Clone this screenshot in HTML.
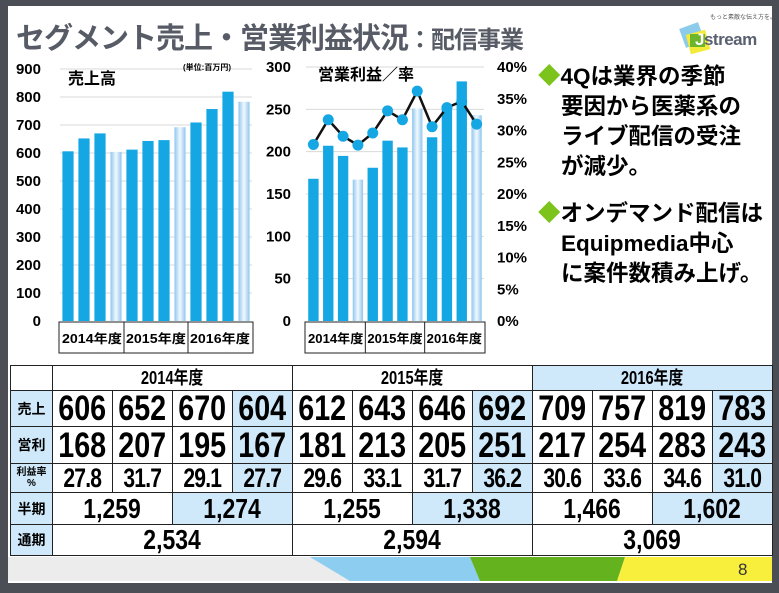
<!DOCTYPE html>
<html><head><meta charset="utf-8">
<style>
body{margin:0;width:779px;height:593px;background:#4b4e54;overflow:hidden;font-family:"Liberation Sans","Noto Sans CJK JP",sans-serif;}
#slide{position:absolute;left:8px;top:6px;width:764px;height:577px;background:#fff;}
.abs{position:absolute;}
table{border-collapse:collapse;position:absolute;left:10px;top:365px;table-layout:fixed;}
td{border:1px solid #222;padding:0;text-align:center;font-weight:bold;color:#000;overflow:hidden;white-space:nowrap;line-height:1;}
td span{display:inline-block;transform:scaleX(0.82);}
.lb{background:#cfe9fa;font-size:14px;}
.b{background:#cfe9fa;}
</style></head><body>
<div id="slide"></div>
<div class="abs" style="left:16px;top:15px;color:#575b66;font-weight:bold;font-size:29px;letter-spacing:-1px;white-space:nowrap;">セグメント売上・営業利益状況<span style="font-size:24px;">：配信事業</span></div>

<div class="abs" style="left:676px;top:12px;width:94px;height:48px;">
  <div class="abs" style="left:34px;top:0;font-size:6px;color:#555;white-space:nowrap;">もっと素敵な伝え方を。</div>
  <div class="abs" style="left:6px;top:13px;width:20px;height:20px;background:#8ccbea;transform:rotate(-20deg);"></div>
  <div class="abs" style="left:12px;top:20px;width:20px;height:20px;background:#f4ea3a;transform:rotate(-15deg);"></div>
  <div class="abs" style="left:14px;top:22px;width:15px;height:13px;background:#6db52a;"></div>
  <div class="abs" style="left:19px;top:18px;font-size:17px;font-weight:bold;color:#5a6070;white-space:nowrap;letter-spacing:-0.5px;"><span style="color:#fff">J</span>stream</div>
</div>

<svg class="abs" style="left:0;top:0" width="779" height="593">
  <g id="left"></g><g id="right"></g>
</svg>

<div class="abs" style="left:538px;top:62px;font-size:22.5px;font-weight:bold;line-height:30px;color:#000;white-space:nowrap;">
  <div><span style="color:#7cc31c">◆</span>4Qは業界の季節<br><span style="padding-left:23px">要因から医薬系の</span><br><span style="padding-left:23px">ライブ配信の受注</span><br><span style="padding-left:23px">が減少。</span></div>
  <div style="margin-top:17px;"><span style="color:#7cc31c">◆</span>オンデマンド配信は<br><span style="padding-left:23px">Equipmedia中心</span><br><span style="padding-left:23px">に案件数積み上げ。</span></div>
</div>

<table id="tbl"></table>

<div class="abs" style="left:8px;top:557px;width:764px;height:24px;background:#ececec;overflow:hidden;">
  <svg width="764" height="24" style="position:absolute;left:0;top:0">
    <polygon points="302,0 462,0 472,24 342,24" fill="#8ccdf0"/>
    <polygon points="462,0 617,0 609,24 472,24" fill="#64b21e"/>
    <polygon points="617,0 764,0 764,24 609,24" fill="#f7ef3c"/>
  </svg>
  <div class="abs" style="left:730px;top:3px;font-size:17px;color:#333;">8</div>
</div>

<script>
const quarters=['1Q','2Q','3Q','4Q','1Q','2Q','3Q','4Q','1Q','2Q','3Q','4Q'];
const years=['2014年度','2015年度','2016年度'];
const sales=[606,652,670,604,612,643,646,692,709,757,819,783];
const profit=[168,207,195,167,181,213,205,251,217,254,283,243];
const margin=[27.8,31.7,29.1,27.7,29.6,33.1,31.7,36.2,30.6,33.6,34.6,31.0];
const halfYear=['1,259','1,274','1,255','1,338','1,466','1,602'];
const fullYear=['2,534','2,594','3,069'];
const salesTicks=[0,100,200,300,400,500,600,700,800,900];
const profitTicks=[0,50,100,150,200,250,300];
const pctTicks=[0,5,10,15,20,25,30,35,40];

const NS='http://www.w3.org/2000/svg';
function mk(tag,attrs,parent,txt){const e=document.createElementNS(NS,tag);for(const k in attrs)e.setAttribute(k,attrs[k]);if(txt!==undefined)e.textContent=txt;parent.appendChild(e);return e;}
const svg=document.querySelector('svg');
const defs=mk('defs',{},svg);
const lg=mk('linearGradient',{id:'q4',x1:0,x2:1,y1:0,y2:0},defs);
mk('stop',{offset:'0','stop-color':'#8fc7ee'},lg);mk('stop',{offset:'0.5','stop-color':'#f2f8fd'},lg);mk('stop',{offset:'1','stop-color':'#8fc7ee'},lg);

function chart(g,x0,x1,y0,yTop,maxV,ticks,vals,labelX,title,titleX,titleY){
  const ys=v=>y0-(v/maxV)*(y0-yTop);
  const step=(x1-x0)/vals.length;
  ticks.forEach(t=>{
    if(t>0){const gl=mk('line',{x1:x0,x2:x1,y1:ys(t),y2:ys(t),stroke:'#d9d9d9','stroke-width':1},g);}
    const tl=mk('text',{x:labelX,y:ys(t)+5,'text-anchor':'end','font-size':15,'font-weight':'bold',fill:'#000'},g,t);
    
  });
  vals.forEach((v,i)=>{
    const bw=step*0.7,bx=x0+i*step+(step-bw)/2;
    const r=mk('rect',{x:bx,y:ys(v),width:bw,height:y0-ys(v),fill:i%4===3?'url(#q4)':'#15a6e4'},g);
    
  });
  const bx=mk('rect',{x:x0-1,y:y0+1,width:x1-x0+2,height:31,fill:'none',stroke:'#222','stroke-width':1},g);
  
  years.forEach((yr,k)=>{
    const gx=x0+k*4*step;
    if(k>0){mk('line',{x1:gx,x2:gx,y1:y0+1,y2:y0+32,stroke:'#222'},g);}
    const t=mk('text',{x:gx+2*step,y:y0+22,'text-anchor':'middle','font-size':12.5,'font-weight':'bold',fill:'#000',textLength:4*step-4,lengthAdjust:'spacingAndGlyphs'},g,yr);
    
  });
  const tt=mk('text',{x:titleX,y:titleY,'font-size':16,'font-weight':'bold',fill:'#000'},g,title);
  
  return {ys,step};
}
const L=chart(document.getElementById('left'),60,252,321,69,900,salesTicks,sales,41,'売上高',68,84);
const u=mk('text',{x:183,y:70,'font-size':8,'font-weight':'bold',fill:'#000'},document.getElementById('left'),'(単位:百万円)');

const gR=document.getElementById('right');
const R=chart(gR,306,484,321,67,300,profitTicks,profit,291,'営業利益／率',318,80);
const yp=v=>321-(v/40)*(321-67);
pctTicks.forEach(t=>{const e=mk('text',{x:497,y:yp(t)+5,'font-size':15,'font-weight':'bold',fill:'#000'},gR,t+'%');});
const pts=margin.map((m,i)=>[306+(i+0.5)*R.step,yp(m)]);
const pl=mk('polyline',{points:pts.map(p=>p.join(',')).join(' '),fill:'none',stroke:'#111','stroke-width':2.5},gR);

pts.forEach(p=>{const c=mk('circle',{cx:p[0],cy:p[1],r:5.5,fill:'#15a6e4'},gR);});

// table
const tbl=document.getElementById('tbl');
let h='<colgroup><col style="width:42px">'+quarters.map(()=>'<col style="width:60px">').join('')+'</colgroup>';
h+='<tr style="height:25px"><td></td>'+years.map((y,k)=>`<td colspan="4" ${k==2?'class="b"':''} style="font-size:18px"><span>${y}</span></td>`).join('')+'</tr>';
h+='<tr style="height:36px"><td class="lb">売上</td>'+sales.map((v,i)=>`<td ${i%4==3?'class="b"':''} style="font-size:35px"><span>${v}</span></td>`).join('')+'</tr>';
h+='<tr style="height:37px"><td class="lb">営利</td>'+profit.map((v,i)=>`<td ${i%4==3?'class="b"':''} style="font-size:35px"><span>${v}</span></td>`).join('')+'</tr>';
h+='<tr style="height:29px"><td class="lb" style="font-size:10px;line-height:11px">利益率<br>%</td>'+margin.map((v,i)=>`<td ${i%4==3?'class="b"':''} style="font-size:27px;letter-spacing:-1px"><span style="transform:scaleX(0.78)">${v.toFixed(1)}</span></td>`).join('')+'</tr>';
h+='<tr style="height:32px"><td class="lb">半期</td>'+halfYear.map((v,i)=>`<td colspan="2" ${i%2==1?'class="b"':''} style="font-size:28px"><span>${v}</span></td>`).join('')+'</tr>';
h+='<tr style="height:31px"><td class="lb">通期</td>'+fullYear.map(v=>`<td colspan="4" style="font-size:28px"><span>${v}</span></td>`).join('')+'</tr>';
tbl.innerHTML=h;
</script>
</body></html>
